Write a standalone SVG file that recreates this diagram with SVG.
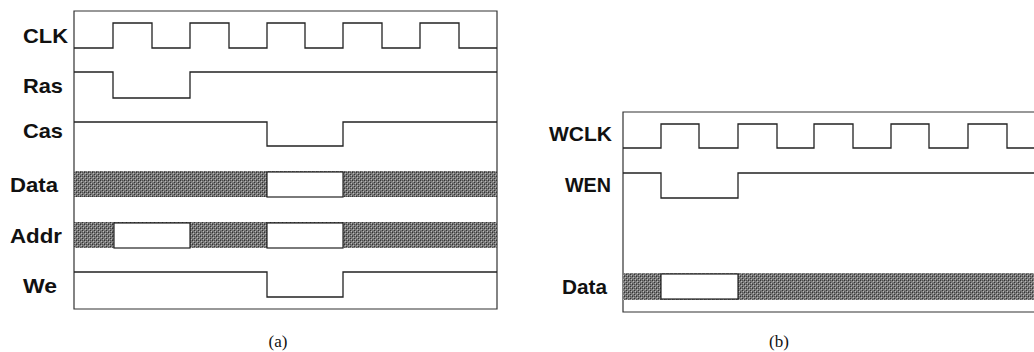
<svg xmlns="http://www.w3.org/2000/svg" width="1034" height="352" viewBox="0 0 1034 352">
<defs>
<pattern id="dither" width="4" height="4" patternUnits="userSpaceOnUse">
<rect width="4" height="4" fill="#7a7a7a"/>
<rect x="0" y="0" width="1" height="1" fill="#333"/>
<rect x="2" y="2" width="1" height="1" fill="#333"/>
<rect x="2" y="0" width="1" height="1" fill="#505050"/>
<rect x="1" y="1" width="1" height="1" fill="#b8b8b8"/>
<rect x="3" y="3" width="1" height="1" fill="#b8b8b8"/>
<rect x="0" y="3" width="1" height="1" fill="#5a5a5a"/>
</pattern>
<style>
.sig{fill:none;stroke:#222;stroke-width:1.3;stroke-linejoin:miter}
.frame{fill:none;stroke:#333;stroke-width:1.2}
.band{fill:url(#dither);stroke:none}
.gap{fill:#fff;stroke:#222;stroke-width:1.2}
.lbl{font-family:"Liberation Sans",Arial,sans-serif;font-weight:bold;font-size:20.5px;fill:#111}
.cap{font-family:"Liberation Serif","Times New Roman",serif;font-size:17px;fill:#111;text-anchor:middle}
</style>
</defs>

<g id="panel-a">
<path class="frame" d="M74,11 H497 V309 H74 Z"/>
<g id="a-clk">
<text class="lbl" x="23" y="43" textLength="45" lengthAdjust="spacingAndGlyphs">CLK</text>
<path class="sig" d="M74,48 H113 V23 H152 V48 H190 V23 H229 V48 H267 V23 H305 V48 H343 V23 H382 V48 H420 V23 H459 V48 H497"/>
</g>
<g id="a-ras">
<text class="lbl" x="23" y="93" textLength="40" lengthAdjust="spacingAndGlyphs">Ras</text>
<path class="sig" d="M74,72 H113 V98 H190 V72 H497"/>
</g>
<g id="a-cas">
<text class="lbl" x="23" y="138" textLength="40" lengthAdjust="spacingAndGlyphs">Cas</text>
<path class="sig" d="M74,122 H267 V146 H343 V122 H497"/>
</g>
<g id="a-data">
<text class="lbl" x="10" y="192" textLength="48" lengthAdjust="spacingAndGlyphs">Data</text>
<rect class="band" x="74" y="171" width="423" height="26"/>
<rect class="gap" x="267" y="172" width="76" height="25"/>
</g>
<g id="a-addr">
<text class="lbl" x="10" y="243" textLength="52" lengthAdjust="spacingAndGlyphs">Addr</text>
<rect class="band" x="74" y="222" width="423" height="26"/>
<rect class="gap" x="114" y="223" width="76" height="25"/>
<rect class="gap" x="267" y="223" width="76" height="25"/>
</g>
<g id="a-we">
<text class="lbl" x="23" y="293" textLength="34" lengthAdjust="spacingAndGlyphs">We</text>
<path class="sig" d="M74,272 H267 V297 H343 V272 H497"/>
</g>
<text class="cap" x="278" y="347">(a)</text>
</g>

<g id="panel-b">
<path class="frame" d="M1034,112 H623 V312 H1034"/>
<g id="b-wclk">
<text class="lbl" x="549" y="141" textLength="63" lengthAdjust="spacingAndGlyphs">WCLK</text>
<path class="sig" d="M623,148 H661 V124 H699 V148 H738 V124 H777 V148 H814 V124 H853 V148 H891 V124 H929 V148 H968 V124 H1007 V148 H1034"/>
</g>
<g id="b-wen">
<text class="lbl" x="565" y="192" textLength="46" lengthAdjust="spacingAndGlyphs">WEN</text>
<path class="sig" d="M623,173 H661 V198 H738 V173 H1034"/>
</g>
<g id="b-data">
<text class="lbl" x="562" y="294" textLength="45" lengthAdjust="spacingAndGlyphs">Data</text>
<rect class="band" x="623" y="273" width="411" height="27"/>
<rect class="gap" x="661" y="274" width="77" height="25"/>
</g>
<text class="cap" x="779" y="347">(b)</text>
</g>

<g id="connectors"></g>
</svg>
